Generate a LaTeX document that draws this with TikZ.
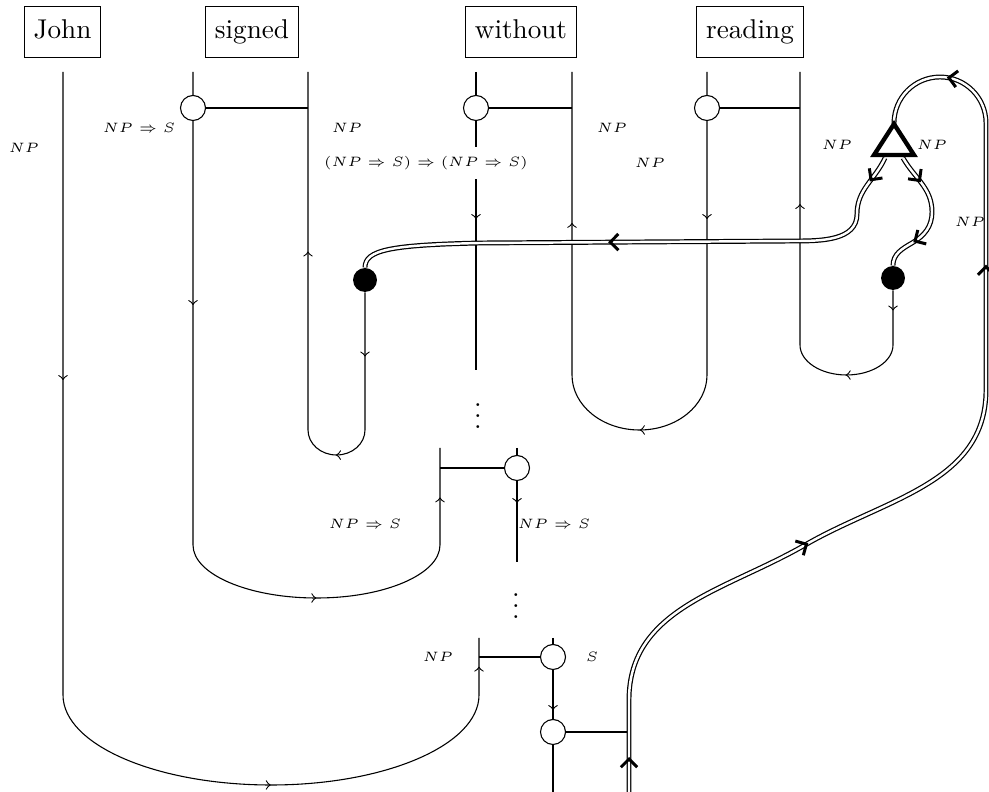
\documentclass[tikz,border=0pt]{standalone}
\usetikzlibrary{decorations.markings,arrows.meta}
\tikzset{
  wire/.style={line width=0.4pt},
  sarr/.style={postaction={decorate,decoration={markings,mark=at position #1*0.368pt with {\arrow{to}}}}},
  dbl/.style={postaction={draw,double=white,double distance=0.9pt,line width=0.45pt}},
  darr/.style={postaction={decorate,decoration={markings,mark=at position #1*0.368pt with {\arrow{Straight Barb[line width=1.1pt,length=3pt,width=6pt]}}}}},
  word/.style={draw,text height=7pt,text depth=2pt,inner ysep=5pt,inner xsep=3.4pt,font=\normalsize},
  junc/.style={circle,draw,fill=white,minimum size=9.2pt,inner sep=0pt},
  bdot/.style={circle,fill=black,minimum size=8.8pt,inner sep=0pt},
  lab/.style={font=\tiny,inner sep=1pt},
  tri/.style={line width=1.6pt,line join=miter},
}
\begin{document}
\begin{tikzpicture}[x=0.368pt,y=0.368pt]
\useasboundingbox (0,0) rectangle (989,-792);
% word boxes
\node[word] (john) at (62.5,-32) {John};
\node[word] (signed) at (252,-32) {signed};
\node[word] (without) at (521,-32) {without};
\node[word] (reading) at (750,-32) {reading};
% wire tops
\coordinate (a1) at (63,-72);
\coordinate (b1) at (193,-72);
\coordinate (b2) at (308,-72);
\coordinate (c1) at (476,-72);
\coordinate (c2) at (572,-72);
\coordinate (d1) at (707,-72);
\coordinate (d2) at (800,-72);
% black dots
\node[bdot] (dotL) at (365,-280) {};
\node[bdot] (dotR) at (893,-278) {};
% single wires
\draw[wire,sarr=308,sarr=866,sarr=1138] (a1) -- (63,-695)
  arc[start angle=180,end angle=360,x radius=208,y radius=90] -- (479,-638);
\draw[wire,sarr=233,sarr=617,sarr=809] (b1) -- (193,-545)
  arc[start angle=180,end angle=360,x radius=123.5,y radius=53] -- (440,-448);
\draw[wire,sarr=64,sarr=180,sarr=400] (dotL) -- (365,-430)
  arc[start angle=0,end angle=-180,x radius=28.5,y radius=25] -- (b2);
\draw[wire,sarr=147] (c1) -- (476,-370);
\draw[wire,sarr=147,sarr=399,sarr=648] (d1) -- (707,-375)
  arc[start angle=0,end angle=-180,x radius=67.5,y radius=55] -- (c2);
\draw[wire,sarr=20,sarr=116,sarr=317] (dotR) -- (893,-345)
  arc[start angle=0,end angle=-180,x radius=46.5,y radius=30] -- (d2);
\draw[wire,sarr=55] (517,-448) -- (517,-562);
\draw[wire,sarr=72] (553,-638) -- (553,-792);
% junction circles
\node[junc] (j1) at (193,-108) {};
\node[junc] (j2) at (476,-108) {};
\node[junc] (j3) at (707,-108) {};
\node[junc] (j4) at (517,-468) {};
\node[junc] (j5) at (553,-657) {};
\node[junc] (j6) at (553,-732) {};
\draw[wire] (j1) -- (b2 |- j1);
\draw[wire] (j2) -- (c2 |- j2);
\draw[wire] (j3) -- (d2 |- j3);
\draw[wire] (j4) -- (440,-468);
\draw[wire] (j5) -- (479,-657);
\draw[wire] (j6) -- (629,-732);
% triangle
\coordinate (tA) at (894,-124);
\coordinate (tL) at (874,-155);
\coordinate (tR) at (914,-155);
% double paths
\path[dbl,darr=35,darr=345,darr=720,darr=927] (629,-792) -- (629,-700)
  to[out=90,in=210] (805,-545) to[out=30,in=270] (986,-390) -- (986,-123)
  arc[start angle=0,end angle=180,radius=46] -- (tA);
\path[dbl,darr=28,darr=326] (885,-158) to[out=245,in=90] (857,-214)
  to[out=270,in=0] (795,-241) -- (480,-243)
  .. controls (390,-245) and (365,-250) .. (dotL.north);
\path[dbl,darr=30,darr=100] (903,-158) to[out=-60,in=90] (932,-212)
  to[out=-90,in=30] (912,-243) to[out=210,in=90] (dotR.north);
\draw[tri] (tA) -- (tL) -- (tR) -- cycle;
% labels
\node[lab] (l1) at (24,-148) {$NP$};
\node[lab] (l2) at (139,-128) {$NP\Rightarrow S$};
\node[lab] (l3) at (347,-128) {$NP$};
\node[lab,fill=white,inner ysep=3.5pt] (l4) at (426,-163) {$(NP\Rightarrow S)\Rightarrow(NP\Rightarrow S)$};
\node[lab] (l5) at (612,-128) {$NP$};
\node[lab] (l6) at (650,-163) {$NP$};
\node[lab] (l7) at (837,-145) {$NP$};
\node[lab] (l8) at (932,-145) {$NP$};
\node[lab] (l9) at (970,-222) {$NP$};
\node[lab] (l10) at (365,-524) {$NP\Rightarrow S$};
\node[lab] (l11) at (554,-524) {$NP\Rightarrow S$};
\node[lab] (l12) at (438,-657) {$NP$};
\node[lab] (l13) at (592,-657) {$S$};
\node (v1) at (478,-408) {$\vdots$};
\node (v2) at (516,-598) {$\vdots$};
\end{tikzpicture}
\end{document}
